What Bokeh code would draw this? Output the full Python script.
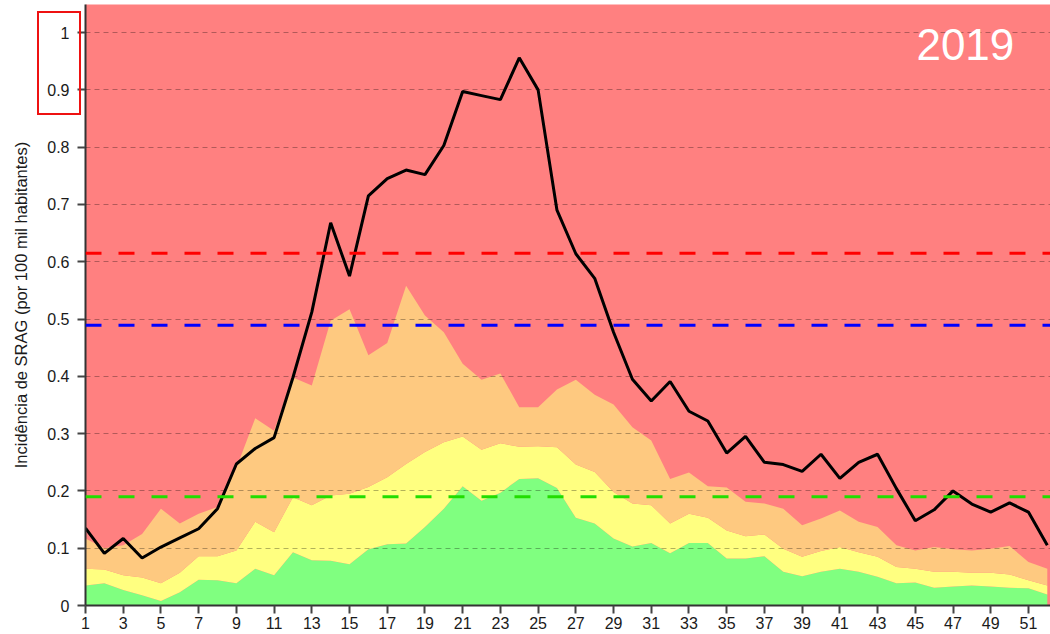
from bokeh.plotting import figure
from bokeh.models import FixedTicker, CustomJSTickFormatter, Span, Label, Range1d, InlineStyleSheet
from bokeh.embed import file_html
from bokeh.resources import INLINE

# ---- data ----
weeks = list(range(1, 53))
incidencia = [0.135, 0.091, 0.117, 0.083, 0.102, 0.118, 0.134, 0.169, 0.247, 0.274,
              0.293, 0.398, 0.512, 0.668, 0.575, 0.715, 0.745, 0.760, 0.752, 0.803,
              0.897, 0.890, 0.883, 0.956, 0.900, 0.690, 0.614, 0.571, 0.477, 0.395,
              0.357, 0.391, 0.339, 0.322, 0.266, 0.295, 0.250, 0.246, 0.234, 0.264,
              0.222, 0.250, 0.264, 0.204, 0.148, 0.167, 0.200, 0.177, 0.163, 0.179,
              0.163, 0.105]
orange_top = [0.117, 0.100, 0.105, 0.125, 0.169, 0.143, 0.160, 0.172, 0.240, 0.327,
              0.305, 0.398, 0.384, 0.497, 0.517, 0.437, 0.458, 0.558, 0.506, 0.477,
              0.422, 0.394, 0.405, 0.346, 0.346, 0.377, 0.394, 0.368, 0.351, 0.311,
              0.288, 0.221, 0.232, 0.208, 0.206, 0.181, 0.178, 0.169, 0.140, 0.152,
              0.166, 0.146, 0.137, 0.105, 0.096, 0.102, 0.098, 0.096, 0.099, 0.104,
              0.076, 0.064]
yellow_top = [0.064, 0.063, 0.053, 0.049, 0.039, 0.057, 0.086, 0.086, 0.096, 0.146,
              0.128, 0.189, 0.175, 0.192, 0.195, 0.207, 0.224, 0.247, 0.268, 0.285,
              0.295, 0.272, 0.283, 0.277, 0.278, 0.276, 0.246, 0.233, 0.198, 0.178,
              0.175, 0.143, 0.160, 0.153, 0.131, 0.121, 0.124, 0.099, 0.085, 0.095,
              0.102, 0.093, 0.085, 0.067, 0.064, 0.059, 0.059, 0.057, 0.057, 0.054,
              0.044, 0.035]
green_top = [0.035, 0.039, 0.027, 0.018, 0.008, 0.023, 0.045, 0.044, 0.039, 0.064,
             0.053, 0.093, 0.079, 0.078, 0.072, 0.098, 0.107, 0.108, 0.137, 0.169,
             0.208, 0.183, 0.197, 0.221, 0.222, 0.205, 0.153, 0.143, 0.117, 0.103,
             0.109, 0.091, 0.109, 0.109, 0.082, 0.082, 0.086, 0.059, 0.051, 0.059,
             0.064, 0.059, 0.050, 0.039, 0.040, 0.031, 0.033, 0.035, 0.033, 0.031,
             0.030, 0.019]
limiar_alto = 0.615     # red dashed
limiar_medio = 0.489    # blue dashed
limiar_baixo = 0.190    # green dashed
x_ticks = list(range(1, 52, 2))
y_ticks = [0, 0.1, 0.2, 0.3, 0.4, 0.5, 0.6, 0.7, 0.8, 0.9, 1]
ano = "2019"
y_label = "Incidência de SRAG (por 100 mil habitantes)"

RED = "#FF8080"
ORANGE = "#FEC980"
YELLOW = "#FFFF80"
GREEN = "#80FF80"

# red highlight rectangle around the top y tick labels (decoration, drawn via CSS)
highlight_css = """
:host { position: relative; }
:host::after {
  content: "";
  position: absolute;
  left: 37px; top: 11px;
  width: 40px; height: 100px;
  border: 2px solid #ee1111;
  pointer-events: none;
}
"""

p = figure(width=1050, height=634, output_backend="svg", toolbar_location=None,
           x_range=Range1d(1, 52.17), y_range=Range1d(0, 1.049),
           min_border_left=85, min_border_right=0, min_border_top=4, min_border_bottom=29,
           stylesheets=[InlineStyleSheet(css=highlight_css)])
p.background_fill_color = RED
p.border_fill_color = "white"
p.outline_line_color = None

p.varea(x=weeks, y1=0, y2=green_top, fill_color=GREEN)
p.varea(x=weeks, y1=green_top, y2=yellow_top, fill_color=YELLOW)
p.varea(x=weeks, y1=yellow_top, y2=orange_top, fill_color=ORANGE)

p.line(x=weeks, y=incidencia, line_color="black", line_width=3)

for loc, col in [(limiar_alto, "#FF0000"), (limiar_medio, "#0000FF"), (limiar_baixo, "#22DD00")]:
    p.add_layout(Span(location=loc, dimension="width", line_color=col,
                      line_width=3, line_dash="16 17"))

# grids
p.xgrid.visible = False
p.ygrid.ticker = FixedTicker(ticks=y_ticks)
p.ygrid.grid_line_color = "black"
p.ygrid.grid_line_alpha = 0.3
p.ygrid.grid_line_dash = "5 4"
p.ygrid.grid_line_width = 1
p.ygrid.level = "guide"

# axes
for ax in (p.xaxis[0], p.yaxis[0]):
    ax.axis_line_color = "#333333"
    ax.axis_line_width = 2
    ax.major_tick_line_color = "#444444"
    ax.major_tick_line_width = 2
    ax.major_tick_in = 0
    ax.major_tick_out = 8
    ax.minor_tick_line_color = None
    ax.major_label_text_font = "Liberation Sans"
    ax.major_label_text_font_size = "16px"
    ax.major_label_text_color = "#1a1a1a"

p.xaxis.ticker = FixedTicker(ticks=x_ticks)
p.xaxis.major_label_standoff = 3
p.yaxis.ticker = FixedTicker(ticks=y_ticks)
p.yaxis.formatter = CustomJSTickFormatter(code="return tick.toString();")
p.yaxis.major_label_standoff = 8
p.yaxis.axis_label = y_label
p.yaxis.axis_label_text_font = "Liberation Sans"
p.yaxis.axis_label_text_font_size = "16.5px"
p.yaxis.axis_label_text_font_style = "normal"
p.yaxis.axis_label_text_color = "#1a1a1a"
p.yaxis.axis_label_standoff = 14

p.add_layout(Label(x=45.06, y=0.980, text=ano, text_color="white",
                   text_font="Liberation Sans", text_font_size="44px",
                   text_baseline="alphabetic"))

open("out.html", "w").write(file_html(p, INLINE))
